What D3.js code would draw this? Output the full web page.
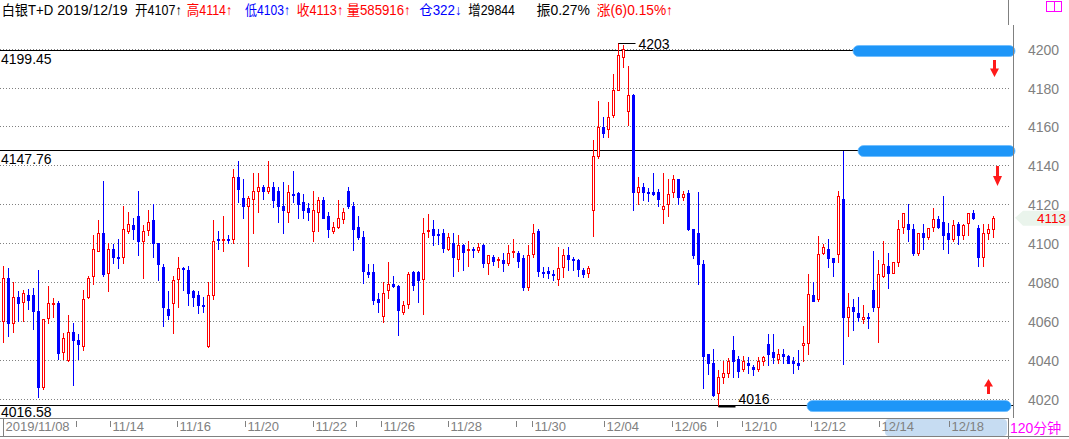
<!DOCTYPE html>
<html><head><meta charset="utf-8">
<script src="https://cdn.jsdelivr.net/npm/d3@7"></script>
<style>
html,body{margin:0;padding:0;background:#fff;overflow:hidden;}
svg{display:block;font-family:Arial,"Liberation Sans","Noto Sans CJK SC",sans-serif;}
</style></head>
<body>
<svg id="c" width="1069" height="439"></svg>
<script>
// ---- data (120-minute bars, 白银T+D) ----
const opens = [4060.1,4082.1,4058.7,4072.3,4069.5,4073.3,4073.3,4064.9,4026.2,4061.3,4068.6,4069.0,4044.2,4039.9,4054.3,4050.2,4047.3,4072.5,4083.1,4096.1,
4105.2,4084.5,4096.8,4092.8,4093.0,4106.4,4109.3,4113.9,4101.3,4106.7,4111.9,4099.9,4087.9,4066.1,4069.4,4081.4,4087.2,4086.2,4075.4,4073.3,
4068.4,4047.3,4073.5,4102.0,4101.8,4102.1,4102.3,4133.8,4123.0,4119.3,4122.5,4127.0,4128.7,4127.0,4128.7,4126.8,4119.1,4116.2,4125.4,4126.0,
4121.0,4117.9,4106.4,4116.2,4122.2,4113.9,4106.4,4108.5,4112.3,4126.8,4119.1,4108.3,4103.0,4085.1,4085.3,4071.5,4062.4,4075.7,4079.1,4078.1,
4064.4,4068.7,4085.3,4085.3,4081.5,4106.1,4107.2,4104.5,4105.3,4097.1,4100.0,4091.8,4099.0,4096.3,4097.1,4096.2,4099.0,4089.6,4092.8,4091.5,
4091.5,4089.6,4095.7,4094.9,4092.3,4077.3,4094.4,4106.3,4085.3,4085.5,4084.3,4081.5,4087.7,4093.8,4091.6,4091.5,4086.3,4084.6,4117.1,4144.8,
4159.9,4158.5,4165.9,4178.7,4195.9,4168.1,4176.2,4126.5,4128.7,4126.5,4126.2,4126.2,4117.4,4120.2,4126.5,4132.8,4123.6,4125.8,4107.0,4105.1,
4089.1,4042.9,4038.1,4022.7,4031.3,4033.3,4045.0,4040.3,4035.2,4038.1,4036.4,4035.2,4039.3,4048.0,4043.8,4040.3,4042.9,4041.9,4039.3,4038.5,
4047.5,4048.4,4073.2,4071.1,4094.9,4096.8,4092.1,4094.2,4122.9,4062.2,4067.0,4063.9,4061.0,4061.9,4075.9,4067.4,4083.1,4088.2,4084.4,4090.4,
4108.4,4109.7,4107.2,4095.0,4105.0,4103.2,4108.4,4112.6,4110.8,4105.0,4102.1,4109.7,4104.1,4110.1,4115.7,4108.0,4092.6,4105.3,4107.0];
const highs = [4088.2,4087.2,4080.0,4075.5,4075.9,4076.2,4076.9,4086.2,4060.8,4077.9,4071.6,4070.0,4053.9,4063.2,4058.7,4053.3,4075.9,4083.1,4104.2,4111.9,
4131.9,4099.9,4099.4,4101.9,4119.1,4116.0,4112.9,4126.8,4109.3,4117.0,4120.1,4100.2,4089.1,4075.4,4083.1,4092.7,4087.9,4088.2,4075.9,4075.2,
4072.5,4080.0,4111.9,4106.2,4113.9,4104.2,4138.3,4142.2,4132.8,4124.2,4135.9,4136.2,4129.9,4142.2,4131.6,4129.0,4131.6,4129.9,4137.1,4126.5,
4125.3,4120.5,4126.8,4123.9,4123.9,4116.2,4111.0,4122.2,4117.9,4129.1,4121.0,4114.0,4106.3,4089.3,4089.3,4074.5,4080.0,4090.4,4083.2,4078.6,
4070.4,4085.1,4085.8,4085.8,4112.8,4115.0,4112.0,4107.2,4107.2,4105.1,4105.1,4104.3,4099.3,4101.2,4098.1,4100.0,4099.3,4093.8,4093.8,4092.8,
4094.9,4099.0,4102.2,4096.1,4093.8,4099.1,4109.9,4107.4,4087.5,4087.5,4086.3,4098.0,4096.9,4098.1,4092.8,4091.8,4087.4,4088.4,4153.0,4173.3,
4164.7,4172.4,4187.0,4203.0,4201.7,4191.1,4176.5,4134.2,4130.8,4128.2,4135.9,4127.7,4135.9,4133.0,4134.9,4133.2,4126.8,4127.5,4107.3,4126.5,
4091.1,4043.2,4045.8,4035.0,4039.3,4041.0,4052.1,4041.9,4041.9,4041.2,4037.3,4041.5,4041.9,4053.2,4053.2,4045.8,4045.8,4042.7,4041.5,4045.0,
4057.4,4083.9,4080.0,4103.9,4099.3,4101.9,4092.3,4126.7,4147.2,4074.2,4071.1,4072.1,4068.2,4064.3,4095.9,4091.3,4101.0,4094.7,4090.1,4111.8,
4115.7,4120.0,4109.7,4105.0,4109.7,4108.0,4117.8,4113.8,4124.1,4110.1,4111.8,4110.9,4109.7,4115.7,4116.9,4109.2,4109.7,4109.7,4114.0];
const lows = [4049.3,4052.4,4054.5,4060.1,4060.1,4066.1,4055.7,4020.7,4025.1,4058.7,4062.2,4040.4,4040.2,4039.5,4027.0,4040.4,4045.0,4071.6,4079.0,4096.1,
4083.1,4075.5,4089.6,4087.0,4089.6,4105.0,4101.9,4093.9,4082.2,4104.2,4093.0,4081.0,4057.5,4061.1,4053.6,4067.3,4075.9,4068.2,4067.7,4064.2,
4064.4,4046.4,4071.4,4097.1,4096.1,4100.2,4099.9,4121.3,4112.7,4088.4,4105.4,4116.2,4122.5,4125.6,4118.7,4111.0,4105.4,4111.0,4121.3,4112.7,
4112.7,4111.9,4101.3,4106.4,4112.7,4103.3,4105.4,4107.6,4110.2,4117.9,4096.2,4102.1,4079.4,4082.4,4068.5,4064.4,4059.3,4071.6,4077.3,4052.6,
4063.6,4066.7,4076.1,4069.6,4063.4,4103.1,4099.1,4099.3,4095.2,4096.2,4083.2,4085.5,4086.3,4088.4,4092.8,4095.2,4087.5,4084.3,4088.5,4087.5,
4085.5,4088.5,4092.8,4087.5,4075.7,4075.7,4092.8,4083.2,4082.4,4082.0,4081.2,4078.3,4082.6,4086.3,4086.3,4083.2,4082.4,4082.4,4103.4,4144.0,
4154.4,4154.4,4164.7,4178.7,4190.4,4160.8,4117.1,4120.2,4122.2,4121.4,4124.5,4119.1,4110.2,4114.0,4123.6,4120.2,4122.2,4106.5,4092.5,4079.1,
4025.3,4032.5,4021.5,4016.0,4028.2,4031.3,4031.3,4031.3,4034.4,4033.3,4032.1,4034.4,4037.3,4037.3,4038.5,4038.5,4038.6,4038.3,4033.3,4035.2,
4039.3,4042.9,4070.0,4070.1,4094.5,4087.7,4082.9,4090.4,4037.8,4052.3,4055.4,4059.7,4059.1,4056.6,4065.3,4049.4,4082.4,4077.1,4084.4,4088.2,
4105.3,4101.2,4093.8,4093.8,4096.9,4102.0,4106.3,4108.0,4096.9,4095.0,4101.2,4099.3,4102.0,4104.3,4112.5,4088.2,4088.4,4102.0,4103.0];
const closes = [4082.1,4058.7,4072.1,4069.4,4074.2,4070.6,4065.3,4026.2,4060.8,4069.0,4069.1,4043.3,4051.0,4054.1,4050.2,4048.1,4071.1,4082.1,4096.8,4105.0,
4084.1,4096.8,4093.0,4092.5,4107.1,4109.7,4107.4,4101.3,4106.4,4110.9,4100.2,4089.3,4067.3,4063.2,4081.0,4087.0,4086.5,4074.5,4072.5,4068.2,
4068.0,4073.1,4100.9,4101.6,4102.1,4101.8,4133.8,4128.0,4119.3,4123.0,4126.6,4128.7,4127.0,4128.7,4122.2,4119.1,4117.0,4126.1,4125.2,4120.1,
4117.0,4116.2,4117.0,4122.2,4113.1,4107.4,4108.1,4112.7,4115.9,4119.3,4107.4,4103.2,4085.4,4084.3,4070.5,4069.5,4074.4,4079.1,4078.1,4065.5,
4068.4,4084.1,4078.5,4081.2,4105.1,4106.5,4104.3,4104.1,4097.3,4103.1,4092.6,4099.0,4095.2,4097.0,4096.2,4097.9,4089.6,4093.8,4090.6,4091.8,
4089.6,4094.9,4096.1,4090.6,4077.3,4093.8,4105.1,4085.5,4085.0,4084.6,4083.4,4087.2,4093.8,4091.6,4091.3,4086.5,4084.3,4087.2,4144.8,4159.9,
4156.5,4164.7,4178.7,4196.7,4199.6,4176.2,4126.5,4128.7,4126.5,4126.2,4125.3,4122.6,4119.1,4125.3,4132.8,4123.6,4125.3,4107.0,4093.7,4089.1,
4042.1,4038.5,4021.8,4030.9,4033.0,4039.3,4039.5,4034.4,4039.3,4037.3,4035.4,4039.3,4041.5,4043.2,4041.5,4042.9,4042.1,4038.5,4038.5,4037.3,
4048.4,4074.0,4070.3,4094.5,4097.8,4092.3,4090.1,4124.1,4062.2,4067.0,4065.3,4062.2,4062.0,4061.4,4067.4,4084.1,4089.2,4084.4,4090.1,4107.0,
4115.7,4107.2,4095.0,4105.0,4103.2,4108.0,4112.6,4108.4,4104.3,4102.1,4109.2,4104.1,4109.2,4115.7,4113.0,4093.0,4105.0,4107.0,4113.0];

const priceTicks = [4200,4180,4160,4140,4120,4100,4080,4060,4040,4020];
const levelValues = [4199.45, 4147.76, 4016.58];
const levelLabels = ["4199.45", "4147.76", "4016.58"];
// x-axis ticks: fractional bar index + label
const dateTickIdx = [0,14.54,21.34,34.88,48.48,62,70.68,75.54,89.08,102.68,105.94,120.14,133.88,142.88,147.8,161.68,175.34,189.2];
const dateTickLabels = ["2019/11/08","","11/14","11/16","11/20","11/22","","11/26","11/28","","11/30","12/04","12/06","","12/10","12/12","12/14","12/18"];
const maxIdx = 123, maxVal = 4203, minIdx = 143, minVal = 4016;
const lastPrice = 4113;
// header quote
const headerParts = [
 ["白银T+D","#000"],["2019/12/19","#000"],["开4107↑","#000"],["高4114↑","#f00"],["低4103↑","#00f"],
 ["收4113↑","#f00"],["量585916↑","#f00"],["仓322↓","#00f"],["增29844","#000"],["振0.27%","#000"],["涨(6)0.15%↑","#f00"]];
const headerX = [1.7,57.3,135,186.7,245,296.7,346.7,419.3,468.3,536.5,596.7];
const headerW = [51.6,70.4,46.7,45.6,45,46.6,64,42.4,46.7,53.5,76.3];

// ---- drawing ----
const svg = d3.select("#c");
const W = 1069, H = 439;
const plotRight = 1013;
const x = d3.scaleLinear().domain([0, 198]).range([3.3, 993.3]);
const y = d3.scaleLinear().domain([4020, 4200]).range([398.7, 48.6]);
const px = v => Math.round(v);

// grid
const grid = svg.append("g");
priceTicks.forEach(t => {
  grid.append("line").attr("x1",0).attr("x2",plotRight-2).attr("y1",px(y(t))+0.5).attr("y2",px(y(t))+0.5)
   .attr("stroke","#808080").attr("stroke-width",1).attr("stroke-dasharray","1,2");
});

// level lines
const levelLabelDy = [13.5, 13.5, 11.5];
levelValues.forEach((v,k) => {
  const yy = px(y(v))+0.5;
  svg.append("line").attr("x1",0).attr("x2",plotRight).attr("y1",yy).attr("y2",yy).attr("stroke","#000").attr("stroke-width",1);
  svg.append("text").attr("x",1).attr("y",yy+levelLabelDy[k]).attr("font-size",14).attr("fill","#000").text(levelLabels[k]);
});

// blue level bars
const barStart = [853, 858, 807];
const barEnd = [1015, 1015, 1011];
levelValues.forEach((v,k) => {
  svg.append("rect").attr("x",barStart[k]).attr("y",px(y(v))-4.5).attr("width",barEnd[k]-barStart[k]).attr("height",11)
    .attr("rx",5.5).attr("fill","#1e96f8").attr("stroke","#6cbcff").attr("stroke-width",0.8);
});

// candles
const cg = svg.append("g");
const data = opens.map((o,i)=>({i,o,h:highs[i],l:lows[i],c:closes[i]}));
data.forEach(d => {
  const cx = Math.floor(x(d.i)) + 0.5;
  const up = d.c >= d.o;
  const col = up ? "#ff0000" : "#0000ff";
  const yh = px(y(d.h)), yl = px(y(d.l));
  let yt = px(y(Math.max(d.o,d.c))), yb = px(y(Math.min(d.o,d.c)));
  cg.append("line").attr("x1",cx).attr("x2",cx).attr("y1",yh).attr("y2",yl+1).attr("stroke",col).attr("stroke-width",1);
  if (up) {
    if (yb - yt < 1) yb = yt + 1;
    cg.append("rect").attr("x",cx-1).attr("y",yt+0.5).attr("width",2).attr("height",Math.max(yb-yt,1))
      .attr("fill","#fff").attr("stroke",col).attr("stroke-width",1);
  } else {
    cg.append("rect").attr("x",cx-1.5).attr("y",yt).attr("width",3).attr("height",Math.max(yb-yt+1,2)).attr("fill",col);
  }
});

// max / min markers
{
  const cx = Math.floor(x(maxIdx))+0.5, yy = px(y(maxVal))+0.5;
  svg.append("line").attr("x1",cx).attr("x2",cx+17).attr("y1",yy).attr("y2",yy).attr("stroke","#000");
  svg.append("text").attr("x",cx+20).attr("y",yy+5.5).attr("font-size",14).attr("fill","#000").text(String(maxVal));
  const cx2 = Math.floor(x(minIdx))+0.5, yy2 = px(y(minVal));
  svg.append("rect").attr("x",cx2).attr("y",yy2-0.5).attr("width",17).attr("height",2).attr("fill","#000");
  svg.append("text").attr("x",cx2+20).attr("y",yy2-2).attr("font-size",14).attr("fill","#000").text(String(minVal));
}

// red arrows
function arrow(cx, y0, y1, dir){
  const len = y1 - y0;
  const headH = len*0.5;
  let p;
  if (dir===1) {
    p = `M${cx-1.5},${y0} L${cx+1.5},${y0} L${cx+1.5},${y1-headH} L${cx+4.5},${y1-headH} L${cx},${y1} L${cx-4.5},${y1-headH} L${cx-1.5},${y1-headH} Z`;
  } else {
    p = `M${cx-1.5},${y1} L${cx+1.5},${y1} L${cx+1.5},${y0+headH} L${cx+4.5},${y0+headH} L${cx},${y0} L${cx-4.5},${y0+headH} L${cx-1.5},${y0+headH} Z`;
  }
  svg.append("path").attr("d",p).attr("fill","#ff1a1a");
}
arrow(994.5, 60, 77, 1);
arrow(997.5, 166, 186, 1);
arrow(988.5, 379, 394, -1);

// right price axis
svg.append("line").attr("x1",plotRight+0.5).attr("x2",plotRight+0.5).attr("y1",25).attr("y2",418).attr("stroke","#808080");
svg.append("line").attr("x1",1008.5).attr("x2",1008.5).attr("y1",0).attr("y2",25).attr("stroke","#808080");
svg.append("line").attr("x1",1008.5).attr("x2",1008.5).attr("y1",418).attr("y2",439).attr("stroke","#808080");
priceTicks.forEach(t => {
  svg.append("text").attr("x",1028).attr("y",px(y(t))+5.5).attr("font-size",14).attr("fill","#808080").text(t);
});

// last price tag
{
  const yy = y(lastPrice);
  svg.append("path").attr("d",`M1015,${yy} L1023,${yy-7} L1069,${yy-7} L1069,${yy+8} L1023,${yy+8} Z`).attr("fill","#eaf4ec");
  svg.append("text").attr("x",1037).attr("y",yy+5).attr("font-size",13.5).attr("fill","#f00").text(lastPrice);
}

// bottom date axis
svg.append("rect").attr("x",885).attr("y",419).attr("width",122).attr("height",17).attr("rx",4).attr("fill","#c6dcf2");
svg.append("line").attr("x1",0).attr("x2",1008).attr("y1",418.5).attr("y2",418.5).attr("stroke","#808080");
svg.append("line").attr("x1",0).attr("x2",W).attr("y1",436.5).attr("y2",436.5).attr("stroke","#808080");
dateTickIdx.forEach((ti,k) => {
  const tx = Math.floor(x(ti))+0.5;
  if (k===0) {
    svg.append("line").attr("x1",tx).attr("x2",tx).attr("y1",418).attr("y2",437).attr("stroke","#808080");
  } else {
    svg.append("line").attr("x1",tx).attr("x2",tx).attr("y1",421).attr("y2",427).attr("stroke","#808080");
  }
  if (dateTickLabels[k]) {
    svg.append("text").attr("x",tx+2).attr("y",431).attr("font-size",13).attr("fill","#808080").text(dateTickLabels[k]);
  }
});
svg.append("text").attr("x",1010).attr("y",433).attr("font-size",14).attr("fill","#ff00ff").text("120分钟");

// header
headerParts.forEach((p,k) => {
  svg.append("text").attr("x",headerX[k]).attr("y",15).attr("font-size",14).attr("fill",p[1])
    .attr("textLength",headerW[k]).attr("lengthAdjust","spacingAndGlyphs").text(p[0]);
});
// top-right icon
svg.append("rect").attr("x",1046.5).attr("y",1.5).attr("width",15).attr("height",10).attr("fill","none").attr("stroke","#ff00ff");
svg.append("line").attr("x1",1054.5).attr("x2",1054.5).attr("y1",1.5).attr("y2",11.5).attr("stroke","#ff00ff");
</script>
</body></html>
